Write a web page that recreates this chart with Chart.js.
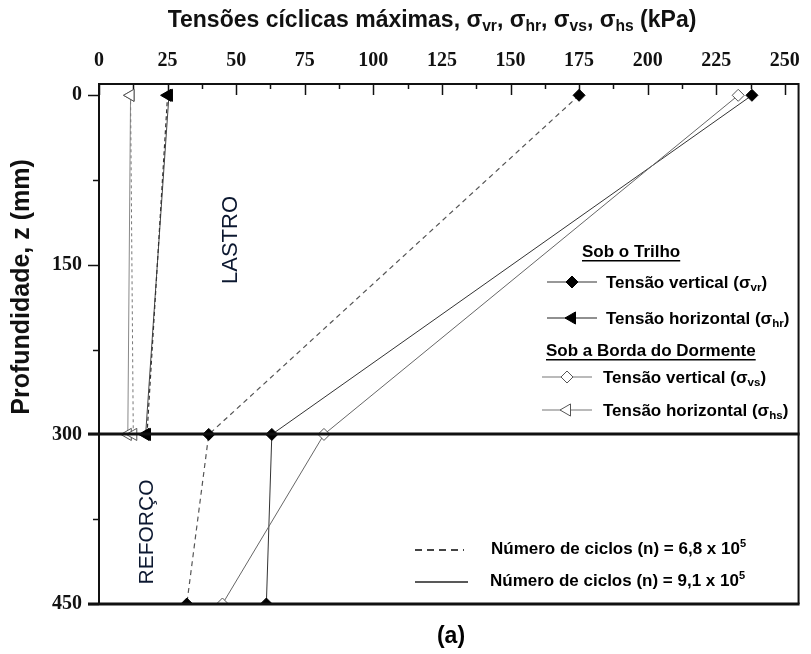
<!DOCTYPE html>
<html>
<head>
<meta charset="utf-8">
<script src="https://cdn.jsdelivr.net/npm/chart.js@4.4.1/dist/chart.umd.min.js"></script>
<style>
  html, body { margin: 0; padding: 0; background: #fff; }
  #wrap { width: 811px; height: 654px; position: relative; }
</style>
</head>
<body>
<div id="wrap"><canvas id="perfil"></canvas></div>
<script>
'use strict';

// profundidade (mm)
const depths = [0, 300, 450];
const depthsLastro = [0, 300];

// sob o trilho: tensão vertical σvr (kPa)
const svrN68 = [175, 40, 32];
const svrN91 = [238, 63, 61];
// sob o trilho: tensão horizontal σhr
const shrN68 = [25, 17.5];
const shrN91 = [25.5, 17];
// sob a borda do dormente: tensão vertical σvs
const svsN91 = [233, 82, 45];
// sob a borda do dormente: tensão horizontal σhs
const shsN68 = [11.5, 12.5];
const shsN91 = [11.5, 10.5];

const xTicks = [0, 12.5, 25, 37.5, 50, 62.5, 75, 87.5, 100, 112.5, 125, 137.5, 150,
                162.5, 175, 187.5, 200, 212.5, 225, 237.5, 250];
const xLabels = [0, 25, 50, 75, 100, 125, 150, 175, 200, 225, 250];
const yTicks = [0, 75, 150, 225, 300, 375, 450];
const yLabels = [0, 150, 300, 450];

const SANS = 'Arial, "Liberation Sans", sans-serif';
const SERIF = '"Times New Roman", "Liberation Serif", serif';

const pts = (xs, zs) => xs.map((v, i) => ({ x: v, y: zs[i] }));

const sty = {
    vrFill:  { pointStyle: 'rectRot',  pointRadius: 6, pointBackgroundColor: '#000', pointBorderColor: '#000', pointBorderWidth: 1, pointRotation: 0 },
    hrFill:  { pointStyle: 'triangle', pointRadius: 7, pointBackgroundColor: '#000', pointBorderColor: '#000', pointBorderWidth: 1, pointRotation: -90 },
    vsOpen:  { pointStyle: 'rectRot',  pointRadius: 6, pointBackgroundColor: '#fff', pointBorderColor: '#555', pointBorderWidth: 1, pointRotation: 0 },
    hsOpen:  { pointStyle: 'triangle', pointRadius: 7, pointBackgroundColor: '#fff', pointBorderColor: '#555', pointBorderWidth: 1, pointRotation: -90 }
};

const datasets = [
    Object.assign({ data: pts(shsN68, depthsLastro), borderColor: '#777', borderWidth: 1, borderDash: [3, 3] }, sty.hsOpen),
    Object.assign({ data: pts(shsN91, depthsLastro), borderColor: '#888', borderWidth: 1 }, sty.hsOpen),
    Object.assign({ data: pts(shrN68, depthsLastro), borderColor: '#333', borderWidth: 1.2, borderDash: [4, 3] }, sty.hrFill),
    Object.assign({ data: pts(shrN91, depthsLastro), borderColor: '#444', borderWidth: 1 }, sty.hrFill),
    Object.assign({ data: pts(svsN91, depths), borderColor: '#666', borderWidth: 1 }, sty.vsOpen),
    Object.assign({ data: pts(svrN68, depths), borderColor: '#555', borderWidth: 1.2, borderDash: [5, 4] }, sty.vrFill),
    Object.assign({ data: pts(svrN91, depths), borderColor: '#333', borderWidth: 1 }, sty.vrFill)
].map(d => Object.assign(d, { showLine: true, fill: false, tension: 0, clip: 0 }));

// text with _{sub} and ^{sup} runs
function drawRich(ctx, str, x, y, size, weight, align) {
    const parts = str.split(/(_\{[^}]*\}|\^\{[^}]*\})/).filter(Boolean).map(s => {
        let t = s, sz = size, dy = 0;
        if (s.startsWith('_{')) { t = s.slice(2, -1); sz = size * 0.68; dy = size * 0.16; }
        else if (s.startsWith('^{')) { t = s.slice(2, -1); sz = size * 0.65; dy = -size * 0.4; }
        ctx.font = `${weight} ${sz}px ${SANS}`;
        return { t, sz, dy, w: ctx.measureText(t).width };
    });
    const total = parts.reduce((a, p) => a + p.w, 0);
    let cx = align === 'center' ? x - total / 2 : x;
    ctx.textAlign = 'left';
    ctx.textBaseline = 'alphabetic';
    parts.forEach(p => {
        ctx.font = `${weight} ${p.sz}px ${SANS}`;
        ctx.fillText(p.t, cx, y + p.dy);
        cx += p.w;
    });
    return total;
}

function vText(ctx, text, x, y, font, color) {
    ctx.save();
    ctx.translate(x, y);
    ctx.rotate(-Math.PI / 2);
    ctx.font = font;
    ctx.fillStyle = color;
    ctx.textAlign = 'center';
    ctx.textBaseline = 'middle';
    ctx.fillText(text, 0, 0);
    ctx.restore();
}

const frame = {
    id: 'frame',
    beforeDatasetsDraw(chart) {
        const { ctx, chartArea: a, scales: { x, y } } = chart;
        ctx.save();
        ctx.strokeStyle = '#111';
        ctx.lineWidth = 1.5;
        xTicks.forEach(v => {
            const px = Math.round(x.getPixelForValue(v)) + 0.5;
            const len = xLabels.includes(v) ? 11 : 5;
            ctx.beginPath(); ctx.moveTo(px, a.top); ctx.lineTo(px, a.top + len); ctx.stroke();
        });
        yTicks.forEach(v => {
            const py = Math.round(y.getPixelForValue(v)) + 0.5;
            const len = yLabels.includes(v) ? 11 : 6;
            ctx.beginPath(); ctx.moveTo(a.left - len, py); ctx.lineTo(a.left, py); ctx.stroke();
        });
        ctx.restore();
    },
    afterDatasetsDraw(chart) {
        const { ctx, chartArea: a, scales: { y } } = chart;
        ctx.save();
        ctx.strokeStyle = '#111';
        ctx.lineWidth = 2;
        ctx.beginPath();
        ctx.moveTo(a.left, a.bottom); ctx.lineTo(a.left, a.top);
        ctx.lineTo(a.right, a.top); ctx.lineTo(a.right, a.bottom);
        ctx.stroke();
        ctx.lineWidth = 3;
        [300, 450].forEach(v => {
            const py = Math.round(y.getPixelForValue(v));
            ctx.beginPath(); ctx.moveTo(a.left - 11, py); ctx.lineTo(a.right + 1, py); ctx.stroke();
        });
        ctx.restore();
    },
    afterDraw(chart) {
        const { ctx } = chart;
        const P = Chart.helpers.drawPoint;
        ctx.save();
        ctx.fillStyle = '#111';
        drawRich(ctx, 'Tensões cíclicas máximas, σ_{vr}, σ_{hr}, σ_{vs}, σ_{hs} (kPa)', 432, 27, 23, 'bold', 'center');
        vText(ctx, 'Profundidade, z (mm)', 22, 287, `bold 25px ${SANS}`, '#111');
        vText(ctx, 'LASTRO', 231, 240, `22px ${SANS}`, '#0c1830');
        vText(ctx, 'REFORÇO', 147, 532, `21px ${SANS}`, '#0c1830');

        // legenda dos símbolos
        ctx.fillStyle = '#000';
        const fs = 17;
        const hdr = (t, x, yb) => {
            const w = drawRich(ctx, t, x, yb, fs, 'bold', 'left');
            ctx.fillRect(x, yb + 3, w, 1.5);
        };
        const sample = (x0, x1, yc, color, st) => {
            ctx.strokeStyle = color; ctx.lineWidth = 1.2;
            ctx.beginPath(); ctx.moveTo(x0, yc); ctx.lineTo(x1, yc); ctx.stroke();
            ctx.fillStyle = st.pointBackgroundColor; ctx.strokeStyle = st.pointBorderColor; ctx.lineWidth = 1;
            P(ctx, { pointStyle: st.pointStyle, radius: st.pointRadius, rotation: st.pointRotation, borderWidth: 1 }, (x0 + x1) / 2, yc);
            ctx.fillStyle = '#000';
        };
        hdr('Sob o Trilho', 582, 257);
        sample(547, 597, 282, '#333', sty.vrFill);
        drawRich(ctx, 'Tensão vertical (σ_{vr})', 606, 288, fs, 'bold', 'left');
        sample(547, 597, 318, '#222', sty.hrFill);
        drawRich(ctx, 'Tensão horizontal (σ_{hr})', 606, 324, fs, 'bold', 'left');
        hdr('Sob a Borda do Dormente', 546, 356);
        sample(542, 592, 377, '#777', sty.vsOpen);
        drawRich(ctx, 'Tensão vertical (σ_{vs})', 603, 383, fs, 'bold', 'left');
        sample(542, 592, 410, '#777', sty.hsOpen);
        drawRich(ctx, 'Tensão horizontal (σ_{hs})', 603, 416, fs, 'bold', 'left');

        // legenda do número de ciclos
        ctx.strokeStyle = '#444'; ctx.lineWidth = 2;
        ctx.setLineDash([7, 5]);
        ctx.beginPath(); ctx.moveTo(415, 550); ctx.lineTo(464, 550); ctx.stroke();
        ctx.setLineDash([]);
        ctx.lineWidth = 1.5; ctx.strokeStyle = '#222';
        ctx.beginPath(); ctx.moveTo(415, 582); ctx.lineTo(468, 582); ctx.stroke();
        drawRich(ctx, 'Número de ciclos (n) = 6,8 x 10^{5}', 491, 554, fs, 'bold', 'left');
        drawRich(ctx, 'Número de ciclos (n) = 9,1 x 10^{5}', 490, 586, fs, 'bold', 'left');

        drawRich(ctx, '(a)', 451, 643, 23, 'bold', 'center');
        ctx.restore();
    }
};

new Chart(document.getElementById('perfil'), {
    type: 'scatter',
    data: { datasets },
    options: {
        animation: false,
        responsive: true,
        maintainAspectRatio: false,
        layout: { padding: { left: 0, right: 8, top: 0, bottom: 50 } },
        plugins: { legend: { display: false }, tooltip: { enabled: false } },
        scales: {
            x: {
                type: 'linear', position: 'top', min: 0, max: 255,
                afterBuildTicks: s => { s.ticks = xTicks.map(v => ({ value: v })); },
                afterFit: s => { s.height = 84; },
                grid: { display: false, drawTicks: false },
                border: { display: false },
                ticks: {
                    autoSkip: false, maxRotation: 0, padding: 11, color: '#111',
                    font: { family: SERIF, size: 20, weight: 'bold' },
                    callback: v => xLabels.includes(v) ? String(v) : ''
                }
            },
            y: {
                type: 'linear', reverse: true, min: -10, max: 450,
                afterBuildTicks: s => { s.ticks = yTicks.map(v => ({ value: v })); },
                afterFit: s => { s.width = 99; },
                grid: { display: false, drawTicks: false },
                border: { display: false },
                ticks: {
                    autoSkip: false, padding: 17, color: '#111',
                    font: { family: SERIF, size: 20, weight: 'bold' },
                    callback: v => yLabels.includes(v) ? String(v) : ''
                }
            }
        }
    },
    plugins: [frame]
});
</script>
</body>
</html>
